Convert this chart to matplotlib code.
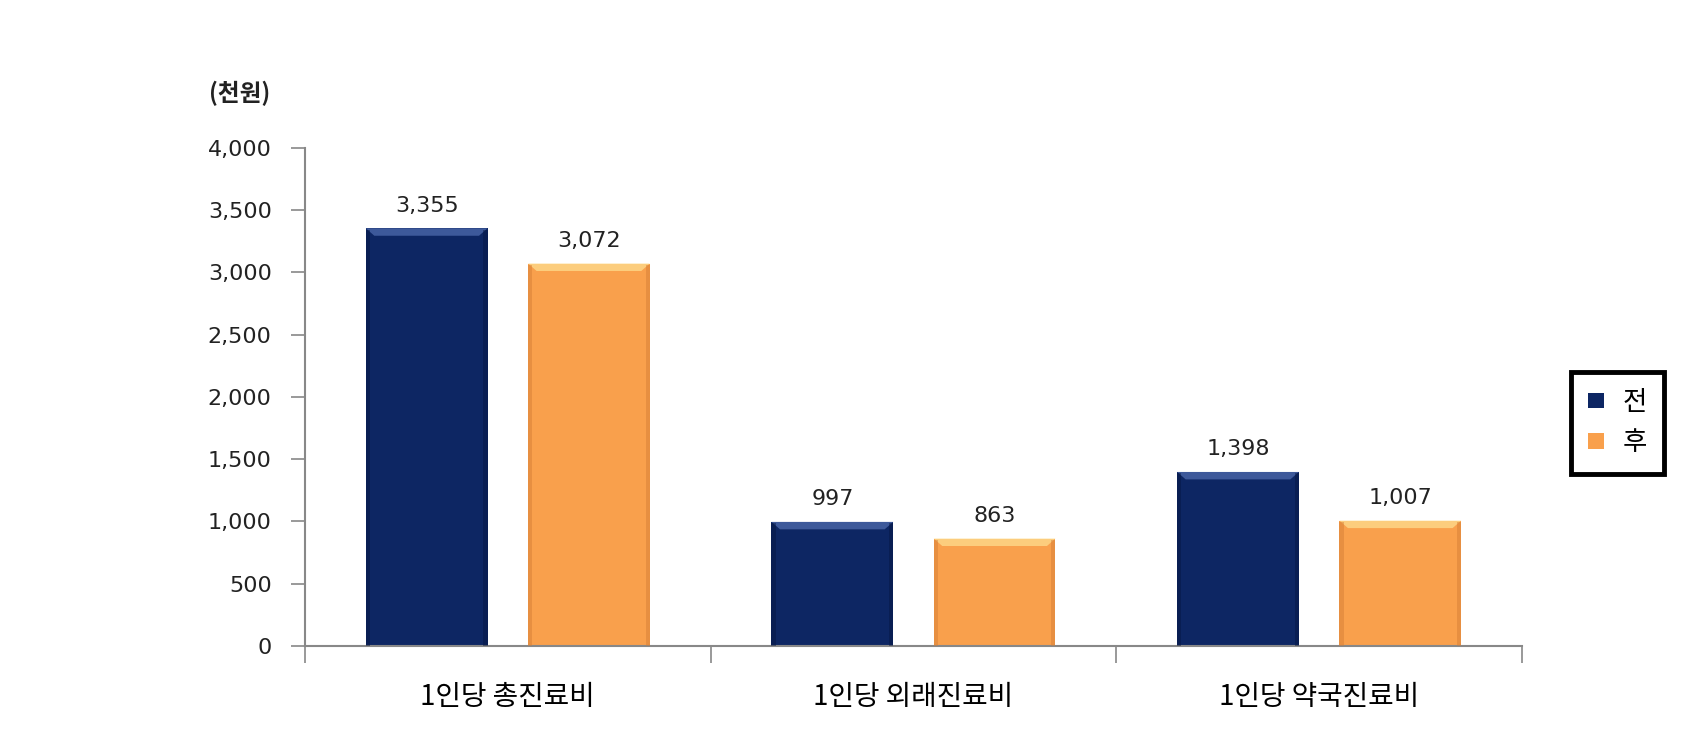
import matplotlib
matplotlib.use("Agg")
import matplotlib.pyplot as plt
import numpy as np
from matplotlib.patches import Rectangle, Polygon

plt.rcParams['font.family'] = ['DejaVu Sans', 'Noto Sans CJK KR']

categories = ['1인당 총진료비', '1인당 외래진료비', '1인당 약국진료비']
series_names = ['전', '후']
before = [3355, 997, 1398]
after = [3072, 863, 1007]
yticks = [0, 500, 1000, 1500, 2000, 2500, 3000, 3500, 4000]
unit_label = '(천원)'

navy = '#0d2663'
orange = '#f9a04c'
navy_light = '#4a66a8'
orange_light = '#fdd98a'

fig = plt.figure(figsize=(16.99, 7.34), dpi=100)
ax = fig.add_axes([0.1795, 0.1199, 0.7163, 0.6785])

x = np.arange(len(categories))
w = 0.3
b1 = ax.bar(x - 0.2, before, w, color=navy, label=series_names[0], zorder=2)
b2 = ax.bar(x + 0.2, after, w, color=orange, label=series_names[1], zorder=2)

# bevel highlight on top of each bar
for cont, light, dark in ((b1, navy_light, '#061640'), (b2, orange_light, '#d27c34')):
    for r in cont:
        x0, wd, h = r.get_x(), r.get_width(), r.get_height()
        bev = 60
        ax.add_patch(Polygon([(x0, h), (x0 + wd, h), (x0 + wd * 0.93, h - bev),
                              (x0 + wd * 0.07, h - bev)], closed=True,
                             color=light, alpha=0.8, lw=0, zorder=3))
        ax.add_patch(Rectangle((x0, 0), wd * 0.035, h - 10, color=dark, alpha=0.45, lw=0, zorder=3))
        ax.add_patch(Rectangle((x0 + wd * 0.965, 0), wd * 0.035, h - 10, color=dark, alpha=0.45, lw=0, zorder=3))

for cont, vals in ((b1, before), (b2, after)):
    for r, v in zip(cont, vals):
        ax.text(r.get_x() + r.get_width() / 2, v + 100, f'{v:,}',
                ha='center', va='bottom', fontsize=16, color='#222222')

ax.set_xlim(-0.5, len(categories) - 0.5)
ax.set_ylim(0, 4000)
ax.set_yticks(yticks)
ax.set_yticklabels([f'{t:,}' for t in yticks], fontsize=16, color='#222222')
ax.set_xticks(np.arange(len(categories) + 1) - 0.5)
ax.set_xticklabels([])
ax.set_xticks(x, minor=True)
ax.set_xticklabels(categories, minor=True, fontsize=20,
                   family=['Noto Sans CJK KR', 'DejaVu Sans'])
ax.tick_params(axis='x', which='minor', length=0, pad=26)
ax.tick_params(axis='x', which='major', length=12, color='#888888', width=1.2)
ax.tick_params(axis='y', length=10, color='#888888', width=1.2, pad=14)

for s in ('top', 'right'):
    ax.spines[s].set_visible(False)
for s in ('left', 'bottom'):
    ax.spines[s].set_color('#888888')
    ax.spines[s].set_linewidth(1.5)

fig.text(0.141, 0.873, unit_label, fontsize=17, fontweight='bold',
         family=['Noto Sans CJK KR', 'DejaVu Sans'], color='#222222', ha='center', va='center')

leg = fig.legend(handles=[b1, b2], labels=series_names, loc='center',
                 bbox_to_anchor=(0.952, 0.424), frameon=True, fancybox=False, framealpha=1,
                 prop={'family': ['Noto Sans CJK KR', 'DejaVu Sans'], 'size': 19},
                 handlelength=0.6, handleheight=0.5, handletextpad=0.7,
                 borderpad=0.65, labelspacing=0.5, edgecolor='black')
leg.get_frame().set_linewidth(3.5)

fig.savefig('out.png', dpi=100, facecolor='white')
